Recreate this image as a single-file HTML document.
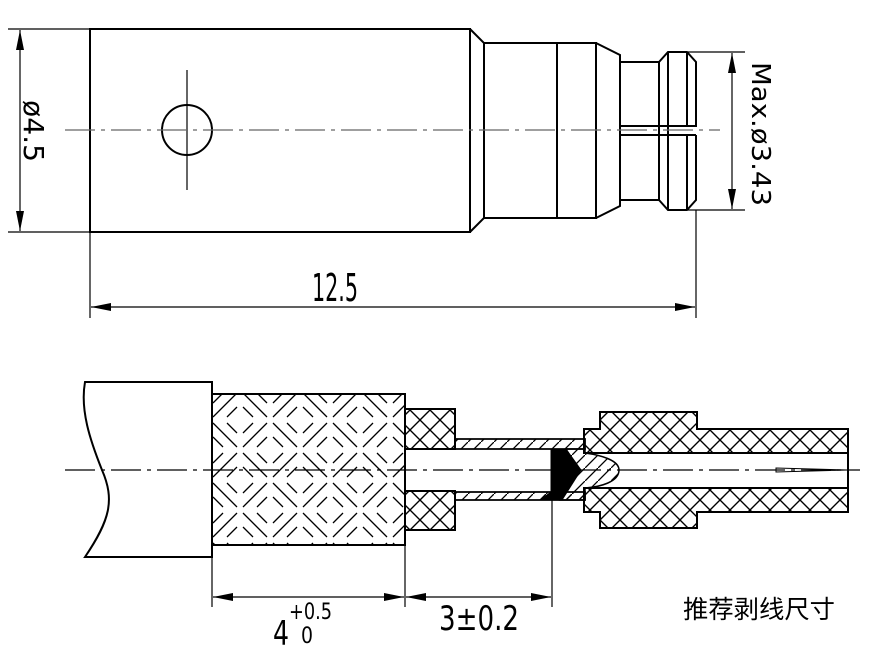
<!DOCTYPE html>
<html><head><meta charset="utf-8"><style>html,body{margin:0;padding:0;background:#fff}svg{display:block}</style></head>
<body>
<svg width="886" height="656" viewBox="0 0 886 656" xmlns="http://www.w3.org/2000/svg">
<defs>
<pattern id="x" width="20" height="20" patternUnits="userSpaceOnUse">
<path d="M-1 -1L21 21M21 -1L-1 21" stroke="#000" stroke-width="1.4"/>
</pattern>
<pattern id="d" width="13" height="13" patternUnits="userSpaceOnUse">
<path d="M-1 14L14 -1" stroke="#000" stroke-width="1.3"/>
</pattern>
<pattern id="b" width="60" height="60" patternUnits="userSpaceOnUse">
<g stroke="#000" stroke-width="1.3" fill="none">
<path d="M3 13L13 3M3 27L27 3M17 27L27 17"/>
<path d="M33 3L57 27M47 3L57 13M33 17L43 27"/>
<path d="M3 33L27 57M17 33L27 43M3 47L13 57"/>
<path d="M33 43L43 33M33 57L57 33M47 57L57 47"/>
</g>
</pattern>
<marker id="a" viewBox="0 0 20 8" refX="20" refY="4" markerWidth="20" markerHeight="8" orient="auto-start-reverse" markerUnits="userSpaceOnUse"><path d="M0 0L20 4L0 8z"/></marker>
</defs>
<g fill="none" stroke="#000">
<g stroke-width="2">
<rect x="90" y="29" width="380" height="203"/>
<path d="M470 29L484 43V218L470 232"/>
<rect x="484" y="43" width="112" height="175"/>
<path d="M557 43V218"/>
<path d="M596 43L620 55V206L596 218"/>
<path d="M620 62H659V200H620"/>
<path d="M659 62L668 52H687L696 62V126H620M696 135V200L687 210H668L659 200"/>
<path d="M620 135H696"/>
<path d="M668 52V210M687 52V126M687 135V210"/>
<circle cx="187" cy="130" r="25"/>
</g>
<g stroke-width="1.2">
<path d="M187 70V190"/>
<path d="M65 130H720" stroke="#666" stroke-dasharray="30 6 4 6"/>
<path d="M8 29H90M8 232H90"/>
<path d="M20 30V231" marker-start="url(#a)" marker-end="url(#a)"/>
<path d="M688 52H745M688 210H745"/>
<path d="M732 53V209" marker-start="url(#a)" marker-end="url(#a)"/>
<path d="M90 232V318M696 210V318"/>
<path d="M91 307H695" marker-start="url(#a)" marker-end="url(#a)"/>
</g>
<path d="M85 382H212V557H85C110 520 115 500 102 470C90 440 80 410 85 382Z" stroke-width="2" fill="#fff"/>
<rect x="212" y="394" width="193" height="151" fill="url(#b)" stroke-width="2"/>
<rect x="405" y="409" width="50" height="40" fill="url(#x)" stroke-width="2"/>
<rect x="405" y="491" width="50" height="39" fill="url(#x)" stroke-width="2"/>
<path d="M455 439H585V449H455Z" fill="url(#d)" stroke-width="1.8"/>
<path d="M455 492H585V500H455Z" fill="url(#d)" stroke-width="1.8"/>
<path d="M566 449H585V453C600 455 619 460 619 470C619 482 600 487 585 488V500H560L578 470Z" fill="url(#d)" stroke-width="1.5"/>
<path d="M551 449H566L581 470L562 500L540 500L551 492Z" fill="#000" stroke-width="1"/>
<path d="M584 429H600V412H697V429H848V453H584Z" fill="url(#x)" stroke-width="2"/>
<path d="M584 488H848V512H697V528H600V512H584Z" fill="url(#x)" stroke-width="2"/>
<path d="M848 453V488" stroke-width="2"/>
<path d="M776 468L848 470L776 472Z" fill="#fff" stroke-width="1"/>
<g stroke-width="1.2">
<path d="M65 470H860" stroke="#000" stroke-dasharray="30 6 4 6"/>
<path d="M212 545V607M405 530V607M552 500V607"/>
<path d="M213 597H404" marker-start="url(#a)" marker-end="url(#a)"/>
<path d="M406 597H551" marker-start="url(#a)" marker-end="url(#a)"/>
</g>
</g>
<g font-family="'DejaVu Sans Condensed','Liberation Sans Narrow','Liberation Sans',sans-serif" fill="#000">
<text x="312" y="301" font-size="38" textLength="46" lengthAdjust="spacingAndGlyphs">12.5</text>
<text transform="translate(24,100) rotate(90)" font-size="28" textLength="62" lengthAdjust="spacingAndGlyphs">ø4.5</text>
<text transform="translate(752,62) rotate(90)" font-size="26" textLength="144" lengthAdjust="spacingAndGlyphs">Max.ø3.43</text>
<text x="273" y="645" font-size="34" textLength="16" lengthAdjust="spacingAndGlyphs">4</text>
<text x="289" y="619" font-size="22" textLength="43" lengthAdjust="spacingAndGlyphs">+0.5</text>
<text x="301" y="643" font-size="22" textLength="12" lengthAdjust="spacingAndGlyphs">0</text>
<text x="439" y="630" font-size="34" textLength="80" lengthAdjust="spacingAndGlyphs">3±0.2</text>
</g>
<text x="683" y="618" font-size="25" font-family="'Liberation Sans','Noto Sans CJK SC',sans-serif" textLength="152" lengthAdjust="spacingAndGlyphs">推荐剥线尺寸</text>
</svg>
</body></html>
